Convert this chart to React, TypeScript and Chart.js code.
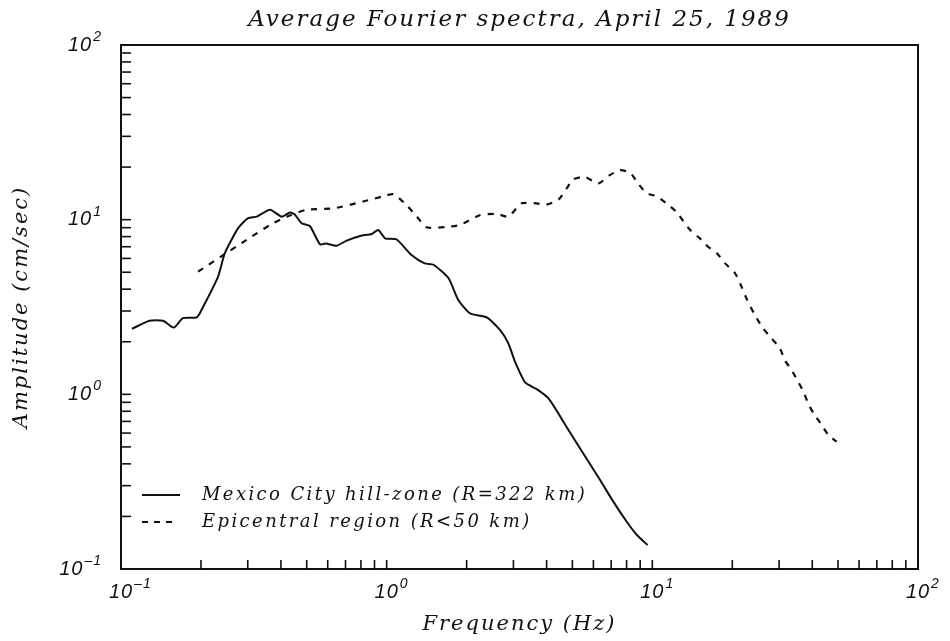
import React, { useEffect, useRef } from "react";
import { Chart, registerables } from "chart.js";

Chart.register(...registerables);

// ---- data ----
const hillFreq = [
  0.110, 0.128, 0.144, 0.158, 0.171, 0.193, 0.204, 0.232, 0.246, 0.276, 0.301, 0.324,
  0.364, 0.403, 0.433, 0.451, 0.479, 0.514, 0.561, 0.590, 0.649, 0.707, 0.794, 0.879,
  0.930, 0.986, 1.09, 1.24, 1.39, 1.50, 1.71, 1.86, 2.06, 2.38, 2.67, 2.87, 3.04, 3.32,
  3.67, 4.06, 4.75, 5.34, 6.35, 7.13, 8.0, 8.73, 9.6,
];
const hillAmp = [
  2.37, 2.64, 2.64, 2.41, 2.73, 2.76, 3.18, 4.72, 6.43, 8.94, 10.2, 10.4,
  11.4, 10.4, 11.0, 10.7, 9.53, 9.2, 7.23, 7.3, 7.1, 7.59, 8.07, 8.28,
  8.73, 7.82, 7.7, 6.28, 5.62, 5.52, 4.62, 3.47, 2.91, 2.76, 2.34, 1.96, 1.54, 1.17,
  1.07, 0.95, 0.653, 0.491, 0.324, 0.243, 0.187, 0.157, 0.137,
];
const epiFreq = [
  0.195, 0.243, 0.297, 0.364, 0.421, 0.500, 0.630, 0.816, 0.971, 1.06, 1.17, 1.30,
  1.41, 1.68, 1.89, 2.24, 2.59, 2.87, 3.22, 3.66, 3.99, 4.43, 4.76, 5.04, 5.57, 6.25,
  6.92, 7.55, 8.24, 8.85, 9.5, 10.4, 11.3, 12.3, 13.8, 15.1, 16.2, 17.5, 18.8, 20.5,
  21.4, 22.6, 24.3, 26.1, 28.1, 30.2, 31.5, 33.4, 35.4, 37.0, 38.6, 40.4, 43.4, 45.9, 49.4,
];
const epiAmp = [
  5.04, 6.28, 7.66, 9.33, 10.4, 11.4, 11.6, 12.7, 13.6, 14.0, 12.4, 10.4,
  9.04, 9.08, 9.33, 10.6, 10.8, 10.4, 12.4, 12.4, 12.2, 13.0, 15.1, 17.0, 17.6, 16.1,
  18.0, 19.2, 18.6, 16.1, 14.2, 13.6, 12.4, 11.1, 8.81, 7.81, 7.0, 6.43, 5.62, 4.93,
  4.32, 3.55, 2.85, 2.39, 2.09, 1.84, 1.57, 1.38, 1.18, 1.04, 0.889, 0.779, 0.668, 0.586, 0.536,
];

const decadeValues = [0.1, 1, 10, 100];
const decadeBase = "10";
const decadeExponents = ["-1", "0", "1", "2"];
const seriesLabels = ["Mexico City hill-zone (R=322 km)", "Epicentral region (R<50 km)"];
const titleText = "Average Fourier spectra, April 25, 1989";
const xTitleText = "Frequency (Hz)";
const yTitleText = "Amplitude (cm/sec)";

const INK = "#111111";
const BASE_FONT = 'italic 20px "Liberation Sans"';
const EXP_FONT = 'italic 14px "Liberation Sans"';

const framePlugin = {
  id: "frameAndLegend",
  beforeDraw(chart: any) {
    chart.ctx.letterSpacing = "2px";
  },
  afterDraw(chart: any) {
    const { ctx, chartArea } = chart;
    const { left, right, top, bottom } = chartArea;
    const xs = chart.scales.x;
    const ys = chart.scales.y;
    ctx.save();
    ctx.strokeStyle = INK;
    ctx.fillStyle = INK;
    ctx.lineWidth = 2;
    ctx.setLineDash([]);
    ctx.strokeRect(left, top, right - left, bottom - top);
    // inward minor/major ticks
    ctx.lineWidth = 1.6;
    for (let e = -1; e <= 1; e++) {
      for (let k = 1; k <= 9; k++) {
        const v = k * Math.pow(10, e);
        if (k === 1 && e === -1) continue;
        const px = xs.getPixelForValue(v);
        ctx.beginPath();
        ctx.moveTo(px, bottom);
        ctx.lineTo(px, bottom - 9);
        ctx.stroke();
        const py = ys.getPixelForValue(v);
        ctx.beginPath();
        ctx.moveTo(left, py);
        ctx.lineTo(left + 10, py);
        ctx.stroke();
      }
    }
    // decade tick labels 10^n
    ctx.letterSpacing = "1px";
    ctx.textBaseline = "middle";
    decadeValues.forEach((v, i) => {
      const exp = decadeExponents[i].replace("-", "\u2013");
      // x axis
      const px = xs.getPixelForValue(v);
      ctx.font = BASE_FONT;
      const wb = ctx.measureText(decadeBase).width;
      ctx.textAlign = "left";
      ctx.fillText(decadeBase, px - wb / 2, bottom + 23);
      ctx.font = EXP_FONT;
      ctx.fillText(exp, px + wb / 2 + 1, bottom + 15);
      // y axis
      const py = ys.getPixelForValue(v);
      ctx.font = EXP_FONT;
      const we = ctx.measureText(exp).width;
      ctx.textAlign = "right";
      ctx.fillText(exp, left - 19, py - 8);
      ctx.font = BASE_FONT;
      ctx.fillText(decadeBase, left - 19 - we - 1, py);
    });
    // legend
    const lx0 = left + 21;
    const lx1 = left + 59;
    const tx = left + 81;
    const y1 = bottom - 74;
    const y2 = bottom - 47;
    ctx.lineWidth = 2;
    ctx.beginPath();
    ctx.moveTo(lx0, y1);
    ctx.lineTo(lx1, y1);
    ctx.stroke();
    ctx.setLineDash([6, 6]);
    ctx.beginPath();
    ctx.moveTo(lx0, y2);
    ctx.lineTo(lx1 - 4, y2);
    ctx.stroke();
    ctx.setLineDash([]);
    ctx.font = 'italic 18px "DejaVu Serif"';
    ctx.letterSpacing = "2.4px";
    ctx.textBaseline = "middle";
    ctx.textAlign = "left";
    ctx.fillText(seriesLabels[0], tx, y1);
    ctx.fillText(seriesLabels[1], tx, y2);
    ctx.restore();
  },
};

export default function App() {
  const ref = useRef<HTMLCanvasElement | null>(null);
  useEffect(() => {
    if (!ref.current) return;
    const chart = new Chart(ref.current, {
      type: "scatter",
      data: {
        datasets: [
          {
            label: seriesLabels[0],
            data: hillFreq.map((f, i) => ({ x: f, y: hillAmp[i] })),
            showLine: true,
            borderColor: INK,
            borderWidth: 2,
            pointRadius: 0,
            tension: 0.2,
          },
          {
            label: seriesLabels[1],
            data: epiFreq.map((f, i) => ({ x: f, y: epiAmp[i] })),
            showLine: true,
            borderColor: INK,
            borderWidth: 2.2,
            borderDash: [6, 7],
            pointRadius: 0,
            tension: 0.2,
          },
        ],
      },
      options: {
        responsive: false,
        animation: false,
        devicePixelRatio: 1,
        layout: { padding: { left: 0, right: 32, top: 0, bottom: 0 } },
        plugins: {
          legend: { display: false },
          tooltip: { enabled: false },
          title: {
            display: true,
            text: titleText,
            fullSize: false,
            color: INK,
            font: { family: '"DejaVu Serif"', size: 23, style: "italic", weight: "normal", lineHeight: 1.2 },
            padding: { top: 6.2, bottom: 11.2 },
          },
        },
        scales: {
          x: {
            type: "logarithmic",
            min: 0.1,
            max: 100,
            grid: { display: false, drawTicks: false },
            border: { display: false },
            afterBuildTicks: (s: any) => {
              s.ticks = decadeValues.map((value) => ({ value }));
            },
            afterFit: (s: any) => {
              s.height = 72;
            },
            ticks: { display: false },
            title: {
              display: true,
              text: xTitleText,
              color: INK,
              font: { family: '"DejaVu Serif"', size: 21, style: "italic", lineHeight: 1.2 },
              padding: { top: 0, bottom: 4 },
            },
          },
          y: {
            type: "logarithmic",
            min: 0.1,
            max: 100,
            grid: { display: false, drawTicks: false },
            border: { display: false },
            afterBuildTicks: (s: any) => {
              s.ticks = decadeValues.map((value) => ({ value }));
            },
            afterFit: (s: any) => {
              s.width = 121;
            },
            ticks: { display: false },
            title: {
              display: true,
              text: yTitleText,
              color: INK,
              font: { family: '"DejaVu Serif"', size: 21, style: "italic", lineHeight: 1.2 },
              padding: { top: 9, bottom: 0 },
            },
          },
        },
      },
      plugins: [framePlugin],
    });
    return () => chart.destroy();
  }, []);
  return (
    <div style={{ position: "absolute", left: 0, top: 0, width: 950, height: 641, background: "#ffffff" }}>
      <canvas ref={ref} width={950} height={641} />
    </div>
  );
}
